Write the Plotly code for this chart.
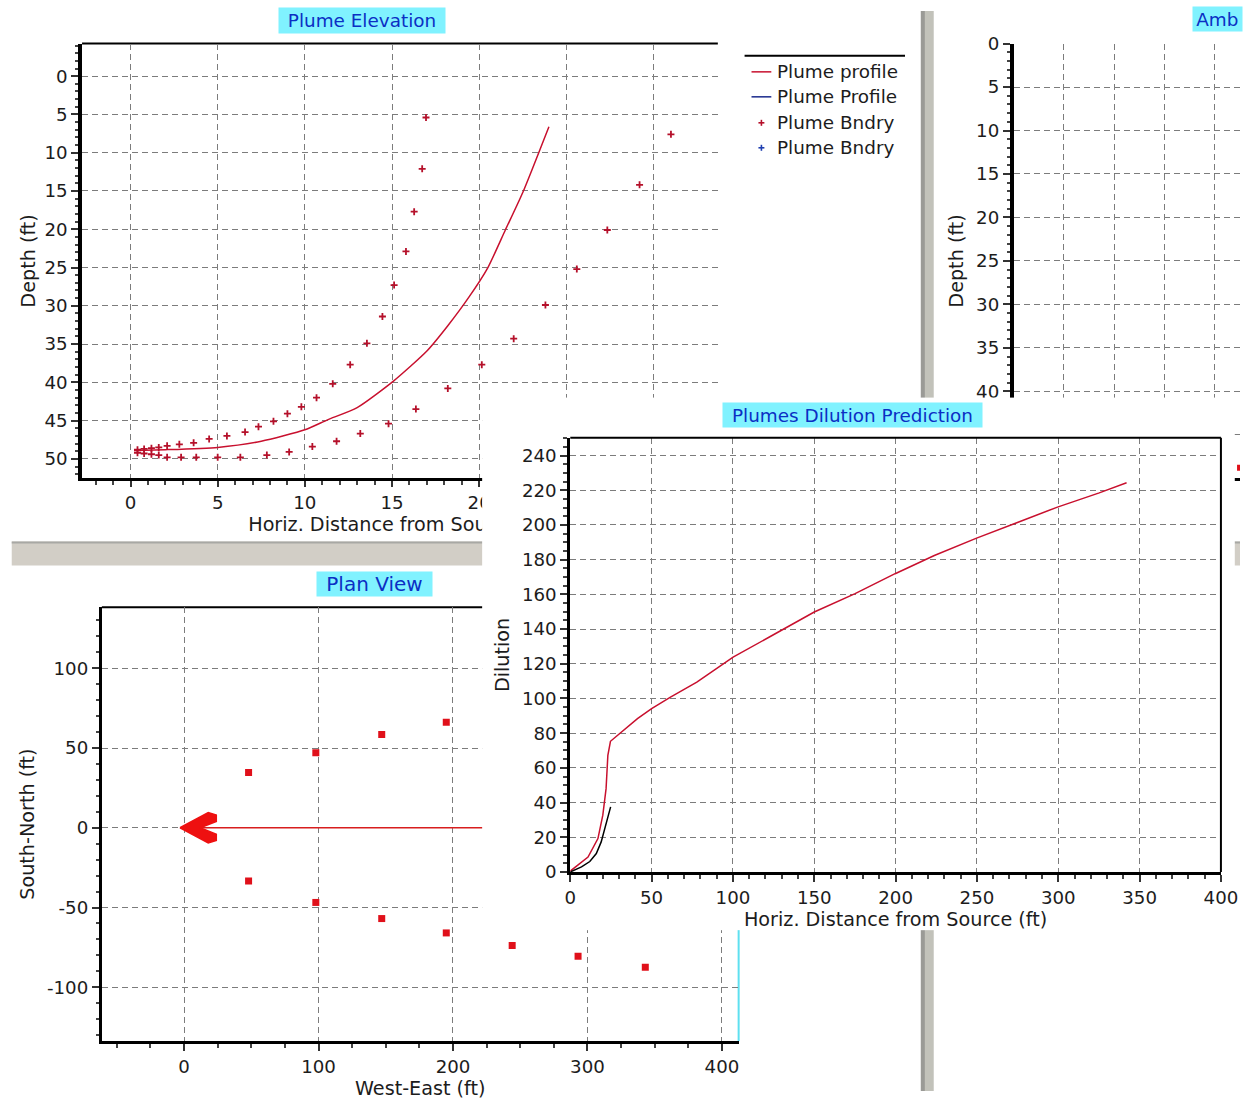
import plotly.graph_objects as go

# ---------------- data ----------------
# Plume Elevation (depth ft vs horizontal distance ft)
profile_x = [0.2, 2.0, 5.0, 7.5, 10.0, 11.3, 13.0, 15.1, 17.0, 18.2, 19.4, 20.5, 21.5, 22.5, 24.0]
profile_y = [48.9, 48.8, 48.5, 47.7, 46.2, 44.9, 43.3, 39.8, 35.9, 32.6, 28.9, 25.0, 20.1, 15.2, 6.6]

bnd_upper_x = [0.4, 0.78, 1.2, 1.62, 2.1, 2.8, 3.62, 4.51, 5.53, 6.57, 7.34, 8.2, 9.0, 9.8,
               10.67, 11.6, 12.6, 13.56, 14.45, 15.12, 15.8, 16.27, 16.73, 16.95]
bnd_upper_y = [48.8, 48.7, 48.6, 48.5, 48.3, 48.1, 47.9, 47.4, 47.0, 46.5, 45.8, 45.1, 44.1, 43.2,
               42.0, 40.2, 37.7, 34.9, 31.4, 27.3, 22.9, 17.7, 12.1, 5.4]
bnd_lower_x = [0.4, 0.78, 1.2, 1.62, 2.1, 2.9, 3.77, 5.0, 6.3, 7.82, 9.1, 10.43, 11.82, 13.18,
               14.8, 16.37, 18.2, 20.15, 21.98, 23.8, 25.6, 27.35, 29.2, 31.0]
bnd_lower_y = [49.2, 49.3, 49.4, 49.5, 49.8, 49.8, 49.8, 49.8, 49.8, 49.5, 49.1, 48.4, 47.7, 46.7,
               45.4, 43.5, 40.8, 37.7, 34.3, 29.9, 25.2, 20.1, 14.2, 7.6]

legend_names = ["Plume profile", "Plume Profile", "Plume Bndry", "Plume Bndry"]

# Ambient (only a sliver visible)
amb_x = [4.5]
amb_y = [48.8]

# Plan view
plan_x = [48, 98, 147, 195, 244, 293, 343]
plan_north = [34.7, 47.1, 58.5, 66.2, 73.8, 80.5, 87.4]
plan_south = [-33.3, -46.8, -56.9, -65.9, -73.8, -80.5, -87.4]
center_x = [0, 48, 98, 147, 195, 244, 293, 343]
center_y = [0, 0, 0, 0, 0, 0, 0, 0]
arrow_x = [-3, 18, 24, 24, 12, 24, 24, 18, -3]
arrow_y = [0, 9.5, 8, 4, 0, -4, -8, -9.5, 0]

# Dilution prediction
dil_x = [0, 5, 10.9, 17, 20, 22, 23.1, 24.7, 30.2, 41.3, 50, 61.6, 77.8, 100.1, 122.4, 150,
         175.1, 199.7, 223.8, 249.8, 274.5, 299.5, 325.2, 342]
dil_y = [0.5, 4, 8.6, 19.2, 32.7, 48, 67.2, 75.3, 79.7, 88.4, 94.1, 100.8, 109.4, 123.8, 135.4,
         149.8, 160.4, 171.9, 182.4, 192.4, 201.3, 210.3, 218.5, 224.3]
dil2_x = [0, 6.9, 12, 16, 19, 21.1, 23.5, 24.8]
dil2_y = [0, 2.9, 6, 10.6, 17.3, 25, 33, 37.5]

plan_y_ticks = [-100, -50, 0, 50, 100]
plan_y_text = ["-100", "-50", "0", "50", "100"]

# ---------------- geometry helpers ----------------
W, H = 1257, 1101
# positions below are given in reference-picture pixels and mapped to figure
# fractions here (with a small correction for how the page is photographed)
SX, SY, OX, OY = 0.9913, 0.9817, 2.2, 10.1
KY = 1 / SY


def clamp(v):
    return max(0.0, min(1.0, v))


def fx(p):
    return clamp((p - OX) / SX / W)


def fy(p):
    return clamp(1 - (p - OY) / SY / H)


FONT = "DejaVu Sans"
TXT = "#1c1c1c"
GRID = "#7c7c7c"
RED = "#c8102e"
BND_RED = "#b5102a"
BND_BLUE = "#1f3fb0"
NAVY = "#1a2a8c"
PLAN_RED = "#e0101a"
CYAN = "#80f2ff"
TITLE_BLUE = "#0b2fc4"
tickfont = dict(family=FONT, size=18.2, color=TXT)
title_font = dict(family=FONT, size=19.2, color=TXT)


def axis(**kw):
    base = dict(showgrid=True, gridcolor=GRID, gridwidth=1.3, griddash="6px,4px",
                zeroline=False, showline=True, linecolor="black", linewidth=3,
                ticks="outside", ticklen=7, tickwidth=1.5, tickcolor="#333",
                tickfont=tickfont)
    base.update(kw)
    return base


fig = go.Figure()

# Elevation traces (subplot 1)
fig.add_trace(go.Scatter(x=profile_x, y=profile_y, mode="lines", name=legend_names[0],
                         line=dict(color=RED, width=1.5, shape="spline", smoothing=0.6),
                         showlegend=False, xaxis="x", yaxis="y"))
fig.add_trace(go.Scatter(x=bnd_upper_x + bnd_lower_x, y=bnd_upper_y + bnd_lower_y,
                         mode="markers", name=legend_names[2], showlegend=False,
                         marker=dict(symbol="cross-thin", size=5,
                                     line=dict(color=BND_RED, width=1.8)),
                         xaxis="x", yaxis="y"))
# empty trace that carries the elevation x-axis title (drawn as a tick label so the
# front window can cover it)
fig.add_trace(go.Scatter(x=[None], y=[None], showlegend=False, hoverinfo="skip",
                         xaxis="x6", yaxis="y"))

# Ambient (subplot 2)
fig.add_trace(go.Scatter(x=amb_x, y=amb_y, mode="markers", showlegend=False,
                         marker=dict(symbol="square", size=6, color=PLAN_RED),
                         xaxis="x2", yaxis="y2"))

# Plan view (subplot 3)
fig.add_trace(go.Scatter(x=center_x, y=center_y, mode="lines", showlegend=False,
                         line=dict(color="#d81e1e", width=1.5), xaxis="x3", yaxis="y3"))
fig.add_trace(go.Scatter(x=arrow_x, y=arrow_y, mode="lines", fill="toself",
                         fillcolor="#ee1010", showlegend=False,
                         line=dict(color="#ee1010", width=1.5), xaxis="x3", yaxis="y3"))
fig.add_trace(go.Scatter(x=plan_x + plan_x, y=plan_north + plan_south, mode="markers",
                         showlegend=False,
                         marker=dict(symbol="square", size=7, color=PLAN_RED),
                         xaxis="x3", yaxis="y3"))

# Front window background (subplot 4) - empty, provides the opaque panel
fig.add_trace(go.Scatter(x=[None], y=[None], showlegend=False, xaxis="x4", yaxis="y4",
                         hoverinfo="skip"))

# Dilution (subplot 5)
fig.add_trace(go.Scatter(x=dil_x, y=dil_y, mode="lines", showlegend=False,
                         line=dict(color=RED, width=1.5), xaxis="x5", yaxis="y5"))
fig.add_trace(go.Scatter(x=dil2_x, y=dil2_y, mode="lines", showlegend=False,
                         line=dict(color="black", width=1.5), xaxis="x5", yaxis="y5"))

# ambient x range reaches the right edge of the figure
amb_right_px = OX + SX * W
amb_x_max = (amb_right_px - 1019.7) / 50.8

layout = dict(
    width=W, height=H, margin=dict(l=0, r=0, t=0, b=0),
    paper_bgcolor="white", plot_bgcolor="white", hovermode=False, showlegend=False,
    font=dict(family=FONT, size=18.2, color=TXT),
    # ---- elevation
    xaxis=axis(domain=[fx(79), fx(721)], range=[-2.78, 33.69], anchor="y",
               tick0=0, dtick=5, ticklen=6,
               minor=dict(dtick=1, ticks="outside", ticklen=4, tickcolor="#444", showgrid=False)),
    yaxis=axis(domain=[fy(477.7), fy(42.7)], range=[52.53, -4.26], anchor="x",
               tick0=0, dtick=5, linewidth=3.5,
               title=dict(text="Depth (ft)", font=title_font, standoff=5),
               minor=dict(dtick=1, ticks="outside", ticklen=3, tickcolor="#444", showgrid=False)),
    xaxis6=dict(overlaying="x", anchor="y", side="bottom", range=[-2.78, 33.69],
                tickmode="array", tickvals=[15.45],
                ticktext=["Horiz. Distance from Source (ft)"],
                ticks="", showgrid=False, showline=False, zeroline=False,
                tickfont=title_font, ticklabelstandoff=33),
    # ---- ambient
    xaxis2=axis(domain=[fx(1019.7), 1.0], range=[0, amb_x_max], anchor="y2", dtick=1, tick0=0,
                showticklabels=False, ticklen=6,
                minor=dict(dtick=0.5, ticks="outside", ticklen=6, tickcolor="#222", showgrid=False)),
    yaxis2=axis(domain=[fy(477.7), fy(42.7)], range=[50, 0], anchor="x2", tick0=0, dtick=5,
                linewidth=3.5,
                title=dict(text="Depth (ft)", font=title_font, standoff=8),
                minor=dict(dtick=1, ticks="outside", ticklen=3, tickcolor="#444", showgrid=False)),
    # ---- plan view
    xaxis3=axis(domain=[fx(99), fx(742)], range=[-61.1, 412.4], anchor="y3", tick0=0, dtick=100,
                title=dict(text="West-East (ft)", font=title_font, standoff=4),
                minor=dict(dtick=25, ticks="outside", ticklen=4, tickcolor="#444", showgrid=False)),
    yaxis3=axis(domain=[fy(1041), fy(606.7)], range=[-133.7, 138.3], anchor="x3",
                tickmode="array", tickvals=plan_y_ticks, ticktext=plan_y_text,
                title=dict(text="South-North (ft)", font=title_font, standoff=8),
                minor=dict(tickvals=list(range(-130, 140, 10)), ticks="outside", ticklen=3,
                           tickcolor="#444", showgrid=False)),
    # ---- front window panel
    xaxis4=dict(domain=[fx(483), fx(1243)], range=[0, 1], anchor="y4", visible=False),
    yaxis4=dict(domain=[fy(930), fy(397)], range=[0, 1], anchor="x4", visible=False),
    # ---- dilution
    xaxis5=axis(domain=[fx(572), fx(1229)], range=[0, 400], anchor="y5", tick0=0, dtick=50,
                title=dict(text="Horiz. Distance from Source (ft)", font=title_font, standoff=6),
                minor=dict(dtick=10, ticks="outside", ticklen=4, tickcolor="#444", showgrid=False)),
    yaxis5=axis(domain=[fy(871.7), fy(437.3)], range=[0, 250.2], anchor="x5", tick0=0, dtick=20,
                title=dict(text="Dilution", font=title_font, standoff=8),
                minor=dict(dtick=5, ticks="outside", ticklen=4, tickcolor="#444", showgrid=False)),
)
fig.update_layout(**layout)


def pline(x0, y0, x1, y1, color, width, layer="below"):
    return dict(type="line", xref="paper", yref="paper", x0=fx(x0), x1=fx(x1),
                y0=fy(y0), y1=fy(y1), line=dict(color=color, width=width), layer=layer)


def prect(x0, y0, x1, y1, color):
    return dict(type="rect", xref="paper", yref="paper", x0=fx(x0), x1=fx(x1),
                y0=fy(y1), y1=fy(y0), fillcolor=color, line=dict(width=0), layer="below")


shapes = [
    # window separators (underneath everything)
    prect(926, 6, 939, 1101, "#c2c2ba"),
    prect(926, 6, 930, 1101, "#9a9a96"),
    prect(8, 541, 1257, 565, "#d2cec6"),
    prect(8, 541, 1257, 543, "#a8a8a4"),
    # cyan frame edge of plan view window
    pline(742, 1041, 742, 600, "#5ee0f0", 2),
    # top frame lines
    dict(type="line", xref="x domain", yref="y domain", x0=0, x1=1, y0=1, y1=1,
         line=dict(color="black", width=2), layer="below"),
    dict(type="line", xref="x3 domain", yref="y3 domain", x0=0, x1=1, y0=1, y1=1,
         line=dict(color="black", width=2), layer="below"),
    dict(type="line", xref="x5 domain", yref="y5 domain", x0=0, x1=1, y0=1, y1=1,
         line=dict(color="black", width=2), layer="above"),
    dict(type="line", xref="x5 domain", yref="y5 domain", x0=1, x1=1, y0=0, y1=1,
         line=dict(color="black", width=2), layer="above"),
    # elevation legend: top rule and symbols
    pline(748, 55, 910, 55, "black", 2),
    pline(755, 71, 775, 71, RED, 1.5),
    pline(755, 96, 775, 96, NAVY, 1.5),
    pline(762, 122, 768, 122, BND_RED, 1.6),
    pline(765, 119, 765, 125, BND_RED, 1.6),
    pline(762, 147, 768, 147, BND_BLUE, 1.6),
    pline(765, 144, 765, 150, BND_BLUE, 1.6),
]
fig.update_layout(shapes=shapes)


def title_box(text, cx, cy, w, h, size=18.4, xanchor="center"):
    return dict(text=text, xref="paper", yref="paper", x=fx(cx), y=fy(cy),
                xanchor=xanchor, yanchor="middle", showarrow=False,
                bgcolor=CYAN, width=w, height=h * KY, borderpad=0,
                font=dict(family=FONT, size=size, color=TITLE_BLUE))


# the ambient title box is cut by the page edge; keep it inside the figure
amb_box_left = (1200 - OX) / SX
amb_box_w = W - amb_box_left

annotations = [
    title_box("Plume Elevation", 362, 19.5, 166, 25),
    title_box("Plan View", 374, 583.5, 115, 24, size=20),
    title_box("Plumes Dilution Prediction", 856.7, 414, 259, 24),
    title_box("Amb", 1200, 18, amb_box_w, 24, xanchor="left"),
]
legend_y = [71, 96, 122, 147]
for name, ly in zip(legend_names, legend_y):
    annotations.append(dict(text=name, xref="paper", yref="paper", x=fx(779), y=fy(ly),
                            xanchor="left", yanchor="middle", showarrow=False,
                            font=dict(family=FONT, size=18.4, color=TXT)))
fig.update_layout(annotations=annotations)

fig.write_html("out.html", config={"displayModeBar": False},
               post_script="document.body.style.margin='0';document.body.style.overflow='hidden';")
